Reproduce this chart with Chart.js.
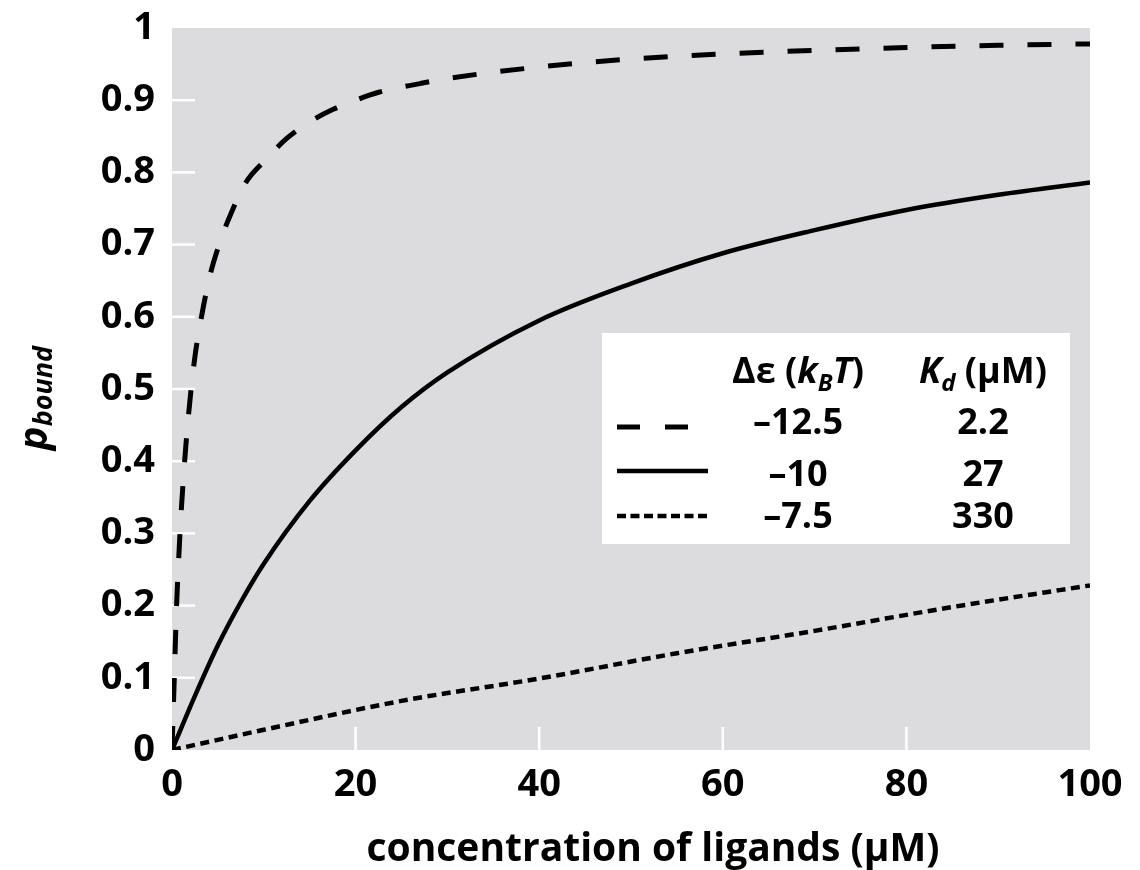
<!DOCTYPE html>
<html>
<head>
<meta charset="utf-8">
<script src="https://cdn.jsdelivr.net/npm/chart.js@4.4.1/dist/chart.umd.min.js"></script>
<style>
  html, body { margin: 0; padding: 0; background: #fff; }
</style>
</head>
<body>
<canvas id="grafico" width="1140" height="870"></canvas>
<script>
// values: concentration (uM) -> p_bound
const conc_kd22 = [0, 0.25, 0.5, 0.75, 1, 1.5, 2, 2.5, 3, 4, 5, 6, 8, 10, 12.5, 15, 17.5, 20, 22.5, 27, 30, 40, 50, 60, 70, 80, 90, 100]
const pb_kd22   = [0, 0.1, 0.2, 0.27, 0.33, 0.42, 0.49, 0.545, 0.585, 0.65, 0.695, 0.73, 0.785, 0.815, 0.847, 0.87, 0.887, 0.9, 0.911, 0.923, 0.93, 0.946, 0.957, 0.964, 0.969, 0.973, 0.976, 0.978]

const conc_kd27 = [0, 2.5, 5, 7.5, 10, 15, 20, 25, 30, 40, 50, 60, 70, 80, 90, 100]
const pb_kd27   = [0, 0.075, 0.145, 0.205, 0.258, 0.345, 0.415, 0.475, 0.523, 0.595, 0.646, 0.688, 0.72, 0.748, 0.769, 0.786]

const conc_kd330 = [0, 10, 25, 40, 55, 70, 85, 100]
const pb_kd330   = [0, 0.028, 0.068, 0.099, 0.134, 0.165, 0.198, 0.228]

const x_ticks = [0, 20, 40, 60, 80, 100]
const y_ticks = [0, 0.1, 0.2, 0.3, 0.4, 0.5, 0.6, 0.7, 0.8, 0.9, 1]

// legend table rows
const leyenda_de = ['\u201312.5', '\u201310', '\u20137.5']
const leyenda_kd = ['2.2', '27', '330']

const FAMILIA = '"Open Sans", "DejaVu Sans", sans-serif'
const GRIS = '#dcdcde'

function puntos(xs, ys){
  return xs.map((x, i) => ({x: x, y: ys[i]}))
}

// draws a run of text pieces (font changes, sub shifts) starting at x
function dibujarTrozos(ctx, x, y, trozos){
  let cx = x
  trozos.forEach(t => {
    ctx.font = t.font
    ctx.fillText(t.t, cx, y + (t.dy || 0))
    cx += ctx.measureText(t.t).width
  })
  return cx
}
function anchoTrozos(ctx, trozos){
  let w = 0
  trozos.forEach(t => { ctx.font = t.font; w += ctx.measureText(t.t).width })
  return w
}

const fondoPlugin = {
  id: 'fondo',
  beforeDraw(chart){
    const {ctx, chartArea} = chart
    ctx.save()
    ctx.fillStyle = GRIS
    ctx.fillRect(chartArea.left, chartArea.top, chartArea.right - chartArea.left, chartArea.bottom - chartArea.top)
    ctx.restore()
  },
  beforeDatasetsDraw(chart){
    // white inner tick marks
    const {ctx, chartArea, scales} = chart
    ctx.save()
    ctx.strokeStyle = '#fff'
    ctx.lineWidth = 2.5
    y_ticks.forEach(v => {
      if (v === 0 || v === 1) return
      const py = scales.y.getPixelForValue(v)
      ctx.beginPath(); ctx.moveTo(chartArea.left, py); ctx.lineTo(chartArea.left + 23, py); ctx.stroke()
    })
    x_ticks.forEach(v => {
      if (v === 0 || v === 100) return
      const px = scales.x.getPixelForValue(v)
      ctx.beginPath(); ctx.moveTo(px, chartArea.bottom); ctx.lineTo(px, chartArea.bottom - 23); ctx.stroke()
    })
    ctx.restore()
  },
  afterDraw(chart){
    const {ctx, chartArea} = chart
    ctx.save()
    ctx.fillStyle = '#000'
    ctx.textBaseline = 'alphabetic'

    // x axis title
    ctx.textAlign = 'center'
    ctx.font = '700 39px ' + FAMILIA
    ctx.fillText('concentration of ligands (\u03bcM)', (chartArea.left + chartArea.right) / 2 + 22, 861)
    ctx.textAlign = 'left'

    // y axis title p_bound (rotated)
    ctx.save()
    ctx.translate(47, (chartArea.top + chartArea.bottom) / 2 + 9)
    ctx.rotate(-Math.PI / 2)
    const tituloY = [
      {t: 'p', font: 'italic 700 40px ' + FAMILIA},
      {t: 'bound', font: 'italic 700 27px ' + FAMILIA, dy: 5}
    ]
    dibujarTrozos(ctx, -anchoTrozos(ctx, tituloY) / 2, 0, tituloY)
    ctx.restore()

    // legend box
    const bx = chartArea.left + 430, by = chartArea.top + 305
    const bw = 468, bh = 211
    ctx.fillStyle = '#fff'
    ctx.fillRect(bx, by, bw, bh)
    ctx.fillStyle = '#000'

    const col1 = bx + 196, col2 = bx + 381
    const fNorm = '700 36px ' + FAMILIA
    const fIt = 'italic 700 36px ' + FAMILIA
    const fSub = 'italic 700 24px ' + FAMILIA
    const cab1 = [
      {t: '\u0394\u03b5 (', font: fNorm},
      {t: 'k', font: fIt},
      {t: 'B', font: fSub, dy: 8},
      {t: 'T', font: fIt},
      {t: ')', font: fNorm}
    ]
    const cab2 = [
      {t: 'K', font: fIt},
      {t: 'd', font: fSub, dy: 8},
      {t: ' (\u03bcM)', font: fNorm}
    ]
    const yCab = by + 50
    dibujarTrozos(ctx, col1 - anchoTrozos(ctx, cab1) / 2, yCab, cab1)
    dibujarTrozos(ctx, col2 - anchoTrozos(ctx, cab2) / 2, yCab, cab2)

    const filasY = [by + 101, by + 153, by + 195]
    const lineasY = [by + 94, by + 138, by + 183]
    const estilos = [
      {dash: [23, 25], w: 5, fin: 71},
      {dash: [], w: 4.5, fin: 91},
      {dash: [9, 4.5], w: 4.5, fin: 91}
    ]
    ctx.textAlign = 'center'
    ctx.font = fNorm
    filasY.forEach((fy, i) => {
      ctx.fillText(leyenda_de[i], col1, fy)
      ctx.fillText(leyenda_kd[i], col2, fy)
      ctx.beginPath()
      ctx.setLineDash(estilos[i].dash)
      ctx.lineWidth = estilos[i].w
      ctx.strokeStyle = '#000'
      ctx.moveTo(bx + 15, lineasY[i])
      ctx.lineTo(bx + 15 + estilos[i].fin, lineasY[i])
      ctx.stroke()
    })
    ctx.setLineDash([])
    ctx.restore()
  }
}

const fuenteEje = {family: FAMILIA, size: 38, weight: '700'}

let ct = document.getElementById('grafico').getContext('2d')
let grafico = new Chart(ct, {
  type: 'line',
  data: {
    datasets: [{
      label: '\u201312.5 / 2.2',
      data: puntos(conc_kd22, pb_kd22),
      borderColor: '#000',
      borderWidth: 5,
      borderDash: [24, 24],
      pointRadius: 0,
      cubicInterpolationMode: 'monotone'
    }, {
      label: '\u201310 / 27',
      data: puntos(conc_kd27, pb_kd27),
      borderColor: '#000',
      borderWidth: 4.5,
      pointRadius: 0,
      cubicInterpolationMode: 'monotone'
    }, {
      label: '\u20137.5 / 330',
      data: puntos(conc_kd330, pb_kd330),
      borderColor: '#000',
      borderWidth: 4.5,
      borderDash: [9, 5.5],
      pointRadius: 0,
      cubicInterpolationMode: 'monotone'
    }]
  },
  options: {
    responsive: false,
    animation: false,
    layout: {padding: {top: 28, right: 50, bottom: 0, left: 0}},
    plugins: {legend: {display: false}, tooltip: {enabled: false}},
    scales: {
      x: {
        type: 'linear', min: 0, max: 100,
        afterBuildTicks: s => { s.ticks = x_ticks.map(v => ({value: v})) },
        ticks: {color: '#000', font: fuenteEje, padding: 12, maxRotation: 0, callback: v => String(v)},
        grid: {display: false, drawTicks: false},
        border: {display: false},
        afterFit: s => { s.height = 120 }
      },
      y: {
        type: 'linear', min: 0, max: 1,
        afterBuildTicks: s => { s.ticks = y_ticks.map(v => ({value: v})) },
        ticks: {color: '#000', font: fuenteEje, padding: 17, callback: v => String(v)},
        grid: {display: false, drawTicks: false},
        border: {display: false},
        afterFit: s => { s.width = 172; s.paddingTop = 0; s.paddingBottom = 0 }
      }
    }
  },
  plugins: [fondoPlugin]
})
</script>
</body>
</html>
